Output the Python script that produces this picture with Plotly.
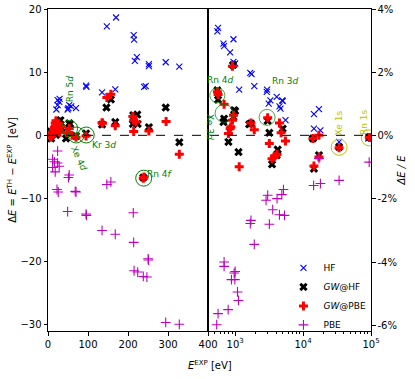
import numpy as np
import plotly.graph_objects as go

# left panel: E_exp [eV] (linear, 0-400) vs dE [eV]
hf_lo_x = [14, 21, 24, 24, 28, 29, 49, 51, 53, 58, 70, 95, 96, 135, 147, 168, 170, 214, 215, 217, 222, 240, 244, 252, 252, 294, 328]
hf_lo_y = [0.6, 4.1, 4.8, 5.6, 5.3, 5.8, 4.1, 4.3, 4.8, 4.6, 4.3, 7.9, 7.7, 6.8, 17.3, 7.3, 18.7, 15.9, 15.2, 11.8, 12.4, 7.7, 7.8, 11.3, 11.0, 11.6, 10.9]

gwhf_lo_x = [7, 8, 12, 15, 20, 22, 27, 31, 34, 45, 53, 55, 70, 95, 135, 146, 157, 168, 212, 213, 223, 224, 238, 252, 294, 328]
gwhf_lo_y = [0.6, -0.5, 0.2, 1.0, 0.05, 1.6, 2.2, 2.4, 1.2, -0.5, 1.9, 1.8, -0.1, 0.3, 1.7, 4.4, 5.7, 2.1, 1.8, 3.2, 3.3, 1.8, -6.7, 1.3, 4.4, -1.1]

gwpbe_lo_x = [6, 9, 11, 14, 16, 18, 20, 22, 25, 28, 30, 33, 47, 53, 60, 70, 95, 135, 136, 147, 157, 168, 212, 214, 214, 220, 238, 240, 252, 295, 328]
gwpbe_lo_y = [-0.3, -0.1, 0.3, 0.8, 1.3, 1.9, 2.3, 1.5, 1.8, 0.9, 0.5, 1.4, 0.4, 1.1, 0.0, -0.3, -0.1, 2.0, 1.9, 6.0, 6.5, 1.5, 3.0, 2.4, 0.6, 2.1, -6.8, -6.6, 0.7, 2.2, -3.0]

pbe_lo_x = [24, 11.5, 16, 24, 28, 11.5, 18, 51, 53, 22.5, 25.7, 68, 70, 49, 95, 96, 135, 147, 157, 168, 213, 214, 250, 251, 215, 224, 238, 247, 294, 328]
pbe_lo_y = [-2.5, -3.8, -4.2, -4.4, -4.9, -5.1, -5.8, -6.7, -6.3, -8.6, -9.0, -8.9, -9.0, -12.1, -12.5, -12.7, -15.1, -7.8, -7.4, -15.7, -12.3, -17.0, -19.6, -19.8, -21.5, -21.7, -22.4, -22.5, -29.7, -30.0]

# right panel: E_exp [eV] (log, 400-1e5) vs dE/E [%]
hf_hi_x = [560, 547, 672, 687, 944, 843, 944, 1000, 1146, 1668, 1745, 1911, 2950, 2920, 3300, 3117, 4090, 4490, 4920, 4650, 5010, 5510, 14450, 17140, 14450, 17990, 33900, 91000]
hf_hi_y = [3.43, 3.32, 2.93, 2.85, 3.07, 2.65, 2.35, 2.30, 1.47, 2.0, 1.96, 1.58, 1.47, 1.40, 1.13, 1.03, 1.24, 0.94, 1.13, 0.87, 1.11, 0.50, 0.69, 0.85, 0.23, 0.18, -0.19, -0.08]

gwhf_hi_x = [547, 560, 672, 687, 930, 944, 966, 1000, 796, 1120, 1611, 1707, 3010, 3186, 4230, 4090, 3490, 5010, 13950, 17140, 14450, 33900, 94500]
gwhf_hi_y = [1.45, 1.15, 0.44, 0.55, 2.25, 0.60, 0.82, 0.79, -0.19, -0.51, 0.37, 0.40, 0.48, 0.10, -0.43, -0.61, -0.90, 0.23, -0.08, -0.61, -1.04, -0.35, -0.03]

gwpbe_hi_x = [560, 547, 687, 912, 944, 912, 863, 843, 796, 1146, 1707, 1911, 3010, 3186, 3490, 3780, 4140, 4490, 4750, 5500, 13950, 17140, 17140, 14450, 33900, 94500]
gwpbe_hi_y = [1.32, 1.40, 1.01, 2.21, 0.66, 0.50, 0.29, 0.23, 0.08, -0.98, 0.41, 0.20, 0.58, -0.24, -0.72, -0.64, -0.59, 0.41, 0.10, -0.16, -0.08, 0.02, -0.67, -0.95, -0.37, -0.05]

pbe_hi_x = [535, 560, 788, 1120, 1082, 882, 990, 966, 1000, 687, 687, 1911, 1707, 1668, 3186, 2850, 3010, 3570, 4140, 4860, 5140, 4490, 5320, 14300, 17990, 33900, 94000, 17140]
pbe_hi_y = [-5.99, -5.64, -5.51, -5.22, -4.95, -4.56, -4.56, -4.35, -4.30, -4.0, -4.14, -3.44, -2.68, -2.78, -2.80, -2.04, -1.88, -2.34, -1.99, -1.86, -1.70, -2.50, -2.52, -1.57, -1.51, -1.41, -0.83, -0.72]

# highlighted levels
circ_lo_x = [53.9, 70.6, 95.5, 239]
circ_lo_y = [1.1, 0.05, 0.05, -6.8]
circ_hi_x = [547, 687, 2950]
circ_hi_y = [1.29, 0.72, 0.59]
circ1s_x = [33900, 94500]
circ1s_y = [-0.36, -0.06]

FONT = "DejaVu Sans"
GREEN = "#008000"
YEL = "#bfbf00"

styles = {
    "HF": dict(symbol="x-thin", size=6, color="blue", line=dict(color="blue", width=1.1)),
    "GW@HF": dict(symbol="x", size=7.5, color="black", line=dict(width=0)),
    "GW@PBE": dict(symbol="cross", size=7.5, color="red", line=dict(width=0)),
    "PBE": dict(symbol="cross-thin", size=7, color="#bf00bf", line=dict(color="#bf00bf", width=1.1)),
}
names = {"HF": "HF", "GW@HF": "<i>GW</i>@HF", "GW@PBE": "<i>GW</i>@PBE", "PBE": "PBE"}
series = {
    "HF": (hf_lo_x, hf_lo_y, hf_hi_x, hf_hi_y),
    "GW@HF": (gwhf_lo_x, gwhf_lo_y, gwhf_hi_x, gwhf_hi_y),
    "GW@PBE": (gwpbe_lo_x, gwpbe_lo_y, gwpbe_hi_x, gwpbe_hi_y),
    "PBE": (pbe_lo_x, pbe_lo_y, pbe_hi_x, pbe_hi_y),
}

fig = go.Figure()
for key, (lx, ly, hx, hy) in series.items():
    fig.add_trace(go.Scatter(x=lx, y=ly, mode="markers", marker=styles[key],
                             name=names[key], legendgroup=key, xaxis="x", yaxis="y"))
    fig.add_trace(go.Scatter(x=hx, y=hy, mode="markers", marker=styles[key],
                             name=names[key], legendgroup=key, showlegend=False,
                             xaxis="x2", yaxis="y2"))

ring = dict(symbol="circle-open", size=16, color=GREEN, line=dict(width=1))
fig.add_trace(go.Scatter(x=circ_lo_x, y=circ_lo_y, mode="markers", marker=ring,
                         showlegend=False, xaxis="x", yaxis="y"))
fig.add_trace(go.Scatter(x=circ_hi_x, y=circ_hi_y, mode="markers",
                         marker=dict(ring, size=[15, 18, 16]),
                         showlegend=False, xaxis="x2", yaxis="y2"))
fig.add_trace(go.Scatter(x=circ1s_x, y=circ1s_y, mode="markers",
                         marker=dict(ring, color=YEL), showlegend=False,
                         xaxis="x2", yaxis="y2"))

# dashed zero line across both panels
fig.add_shape(type="line", xref="paper", yref="y", x0=0, x1=1, y0=0, y1=0,
              line=dict(color="black", width=1, dash="dash"))

def lab(x, y, text, ref, color=GREEN, angle=0):
    xr, yr = ("x", "y") if ref == "lo" else ("x2", "y2")
    xv = x if ref == "lo" else np.log10(x)
    fig.add_annotation(x=xv, y=y, xref=xr, yref=yr, text=text, showarrow=False,
                       textangle=angle, font=dict(family=FONT, size=9, color=color))

lab(55.6, 7.35, "Rn 5<i>d</i>", "lo", angle=-90)
lab(76.3, -3.65, "Xe 4<i>d</i>", "lo", angle=65)
lab(140, -1.46, "Kr 3<i>d</i>", "lo")
lab(279, -6.2, "Rn 4<i>f</i>", "lo")
lab(600, 1.77, "Rn 4<i>d</i>", "hi")
lab(5600, 1.74, "Rn 3<i>d</i>", "hi")
lab(427, 0.28, "Xe 3<i>d</i>", "hi", angle=90)
lab(33900, 0.40, "Xe 1s", "hi", color=YEL, angle=-90)
lab(77100, 0.45, "Rn 1s", "hi", color=YEL, angle=-90)

fig.add_annotation(x=0.5, y=0, xref="paper", yref="paper", yanchor="middle",
                   yshift=-34, text="<i>E</i><sup>EXP</sup> [eV]", showarrow=False,
                   font=dict(family=FONT, size=10, color="black"))

axis_common = dict(showline=True, linecolor="black", linewidth=1, mirror=True,
                   ticks="outside", ticklen=3.5, tickcolor="black", showgrid=False,
                   zeroline=False, automargin=False,
                   tickfont=dict(family=FONT, size=10, color="black"))

split = 0.4958
fig.update_layout(
    width=415, height=379,
    margin=dict(l=48, r=44, t=9, b=48, autoexpand=False),
    plot_bgcolor="white", paper_bgcolor="white",
    font=dict(family=FONT, size=10, color="black"),
    showlegend=True,
    legend=dict(x=0.729, y=0.241, xanchor="left", yanchor="top", bgcolor="rgba(0,0,0,0)",
                font=dict(family=FONT, size=9), tracegroupgap=0),
    xaxis=dict(axis_common, domain=[0, split], range=[0, 400],
               tickvals=[0, 100, 200, 300, 400], anchor="y"),
    yaxis=dict(axis_common, range=[-31.06, 20.05], tickvals=[-30, -20, -10, 0, 10, 20],
               anchor="x",
               title=dict(text="Δ<i>E</i> = <i>E</i><sup>TH</sup> − <i>E</i><sup>EXP</sup>  [eV]",
                          font=dict(family=FONT, size=10), standoff=1)),
    xaxis2=dict(axis_common, domain=[split, 1], type="log", range=[np.log10(400), 5],
                tickvals=[1e3, 1e4, 1e5],
                ticktext=["10<sup>3</sup>", "10<sup>4</sup>", "10<sup>5</sup>"],
                minor=dict(ticks="outside", ticklen=2, tickcolor="black",
                           tickvals=[v * m for m in (100, 1000, 10000) for v in range(2, 10)
                                     if 400 < v * m < 1e5]),
                anchor="y2"),
    yaxis2=dict(axis_common, range=[-6.19, 4.03], side="right", anchor="x2",
                tickvals=[-6, -4, -2, 0, 2, 4],
                ticktext=["-6%", "-4%", "-2%", "0%", "2%", "4%"],
                title=dict(text="<i>ΔE / E</i>", font=dict(family=FONT, size=10), standoff=2)),
)

# drop the browser's default body margin so the figure sits at the page corner
fig.write_html("out.html", config={"displayModeBar": False},
               post_script="document.body.style.margin = '0';")
